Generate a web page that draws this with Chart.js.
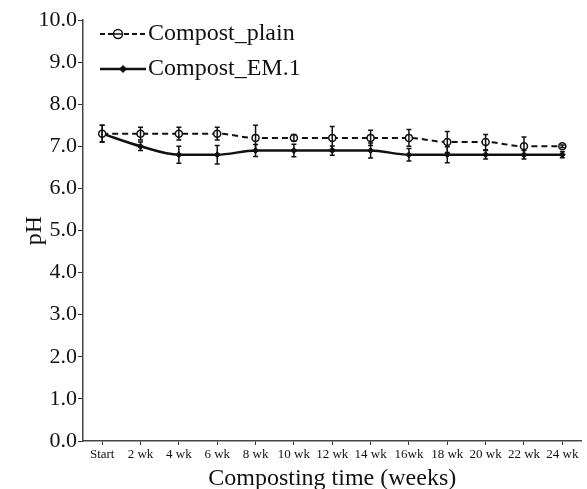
<!DOCTYPE html>
<html>
<head>
<meta charset="utf-8">
<script src="https://cdn.jsdelivr.net/npm/chart.js@4/dist/chart.umd.min.js"></script>
<style>
html,body{margin:0;padding:0;background:#fff;}
#wrap{width:587px;height:489px;position:relative;}
</style>
</head>
<body>
<div id="wrap"><canvas id="c" width="587" height="489"></canvas></div>
<script>
const categories = ["Start","2 wk","4 wk","6 wk","8 wk","10 wk","12 wk","14 wk","16wk","18 wk","20 wk","22 wk","24 wk"];
const plainValues = [7.3,7.3,7.3,7.3,7.2,7.2,7.2,7.2,7.2,7.1,7.1,7.0,7.0];
const plainErrors = [0.2,0.15,0.15,0.15,0.3,0.08,0.27,0.18,0.2,0.25,0.18,0.22,0.03];
const em1Values = [7.3,7.0,6.8,6.8,6.9,6.9,6.9,6.9,6.8,6.8,6.8,6.8,6.8];
const em1Errors = [0.2,0.1,0.2,0.22,0.14,0.15,0.11,0.18,0.15,0.19,0.1,0.1,0.07];
const yTicks = [0,1,2,3,4,5,6,7,8,9,10];
const seriesNames = ["Compost_plain","Compost_EM.1"];

const SERIF = "'Liberation Serif','DejaVu Serif',serif";
const errs = [plainErrors, em1Errors];

const errorBarPlugin = {
  id: 'errbars',
  afterDatasetsDraw(chart) {
    const ctx = chart.ctx;
    const ys = chart.scales.y;
    ctx.save();
    ctx.strokeStyle = '#111';
    ctx.lineWidth = 1.5;
    chart.data.datasets.forEach((ds, di) => {
      const meta = chart.getDatasetMeta(di);
      meta.data.forEach((pt, i) => {
        const v = ds.data[i], e = errs[di][i];
        const yt = ys.getPixelForValue(v + e), yb = ys.getPixelForValue(v - e);
        const x = pt.x;
        ctx.beginPath();
        ctx.moveTo(x, yt); ctx.lineTo(x, yb);
        ctx.moveTo(x - 2.5, yt); ctx.lineTo(x + 2.5, yt);
        ctx.moveTo(x - 2.5, yb); ctx.lineTo(x + 2.5, yb);
        ctx.stroke();
      });
    });
    ctx.restore();
  }
};

const legendPlugin = {
  id: 'customLegend',
  afterDraw(chart) {
    const ctx = chart.ctx;
    ctx.save();
    ctx.font = "24px " + SERIF;
    ctx.fillStyle = '#111';
    ctx.textBaseline = 'middle';
    ctx.strokeStyle = '#111';
    ctx.lineWidth = 2;
    ctx.setLineDash([5,3]);
    ctx.beginPath(); ctx.moveTo(100, 34); ctx.lineTo(146, 34); ctx.stroke();
    ctx.setLineDash([]);
    ctx.lineWidth = 1.5;
    ctx.beginPath(); ctx.arc(118, 34, 4.5, 0, Math.PI*2); ctx.fillStyle='#fff'; ctx.fill(); ctx.stroke();
    ctx.beginPath(); ctx.moveTo(113.5,34); ctx.lineTo(122.5,34); ctx.stroke();
    ctx.fillStyle = '#111';
    ctx.fillText(seriesNames[0], 148, 34);
    ctx.lineWidth = 2.5;
    ctx.beginPath(); ctx.moveTo(100, 69); ctx.lineTo(146, 69); ctx.stroke();
    ctx.beginPath(); ctx.moveTo(123, 65); ctx.lineTo(127, 69); ctx.lineTo(123, 73); ctx.lineTo(119, 69); ctx.closePath(); ctx.fill();
    ctx.fillText(seriesNames[1], 148, 69);
    ctx.restore();
  }
};

new Chart(document.getElementById('c'), {
  type: 'line',
  data: {
    labels: categories,
    datasets: [
      {
        label: seriesNames[0],
        data: plainValues,
        borderColor: '#111',
        borderWidth: 2,
        borderDash: [6,4],
        cubicInterpolationMode: 'monotone',
        pointRadius: 3.5,
        pointBorderWidth: 1.5,
        pointBackgroundColor: '#fff',
        pointBorderColor: '#111',
        fill: false
      },
      {
        label: seriesNames[1],
        data: em1Values,
        borderColor: '#111',
        borderWidth: 2.5,
        cubicInterpolationMode: 'monotone',
        pointStyle: 'rectRot',
        pointRadius: 3,
        pointBorderWidth: 1,
        pointBackgroundColor: '#111',
        pointBorderColor: '#111',
        fill: false
      }
    ]
  },
  options: {
    responsive: false,
    animation: false,
    layout: { padding: { top: 20, right: 2, left: 0, bottom: 0 } },
    plugins: { legend: { display: false }, tooltip: { enabled: false } },
    scales: {
      x: {
        type: 'category',
        offset: true,
        grid: { display: true, drawOnChartArea: false, drawTicks: true, tickLength: 4, tickColor: '#333', offset: false },
        border: { display: true, color: '#444', width: 1.5 },
        ticks: { color: '#111', font: { family: SERIF, size: 13 }, padding: 2, maxRotation: 0, autoSkip: false },
        title: { display: true, text: 'Composting time (weeks)', color: '#111', font: { family: SERIF, size: 24, lineHeight: 1 }, padding: { top: 0, bottom: -2 } },
        afterFit(s) { s.height = 48; }
      },
      y: {
        min: 0, max: 10,
        afterBuildTicks(s) { s.ticks = yTicks.map(v => ({ value: v })); },
        grid: { display: true, drawOnChartArea: false, drawTicks: true, tickLength: 5, tickColor: '#333' },
        border: { display: true, color: '#444', width: 1.5 },
        ticks: { color: '#111', font: { family: SERIF, size: 22 }, padding: 1, callback: v => Number(v).toFixed(1) },
        title: { display: true, text: 'pH', color: '#111', font: { family: SERIF, size: 24, lineHeight: 1 }, padding: { top: 23, bottom: 0 } },
        afterFit(s) { s.width = 83; }
      }
    }
  },
  plugins: [errorBarPlugin, legendPlugin]
});
</script>
</body>
</html>
